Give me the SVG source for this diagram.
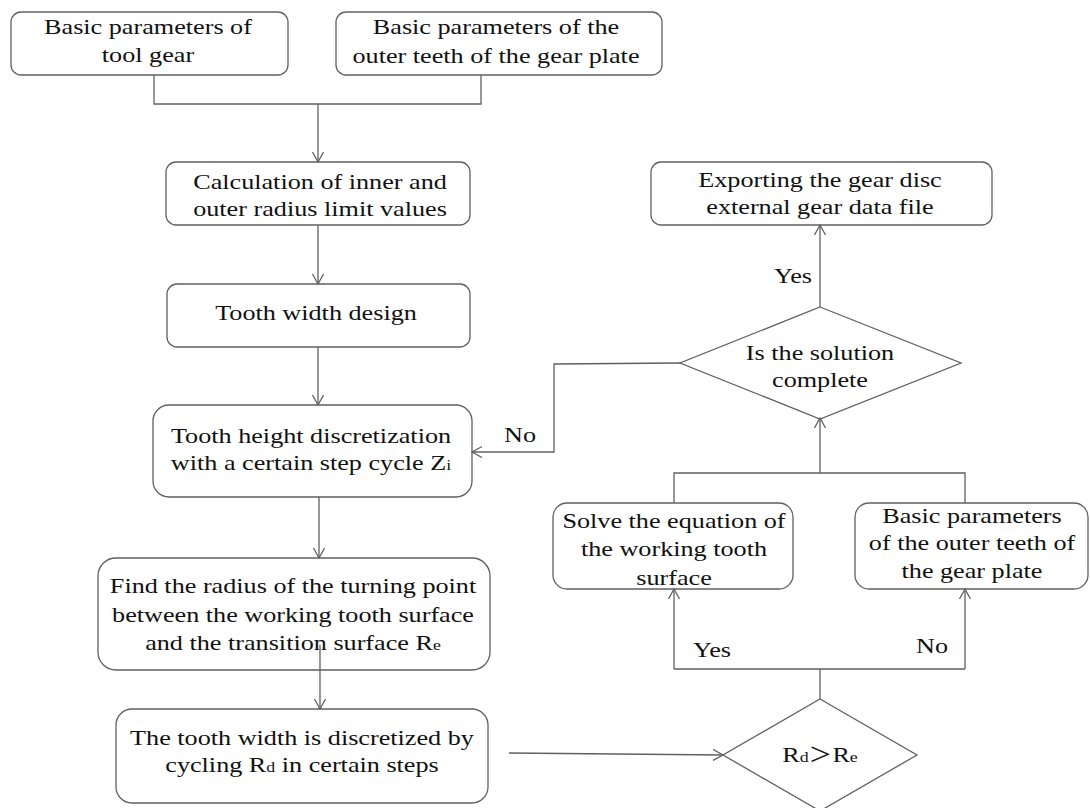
<svg xmlns="http://www.w3.org/2000/svg" width="1090" height="808" viewBox="0 0 1090 808">
<defs>
<style>
.box{fill:#fff;stroke:#606060;stroke-width:1.3}
.ln{fill:none;stroke:#606060;stroke-width:1.3}
.t{font-family:"Liberation Serif","Times New Roman",serif;font-size:22px;fill:#111;text-anchor:middle}
.s{font-size:15px}
.gt{font-family:"Noto Sans CJK SC",sans-serif;font-size:20px}
</style>
<marker id="ar" markerUnits="userSpaceOnUse" markerWidth="14" markerHeight="14" refX="11" refY="6" orient="auto">
<path d="M1,0.5 L11,6 L1,11.5" fill="none" stroke="#606060" stroke-width="1.3"/>
</marker>
</defs>
<rect width="1090" height="808" fill="#fff"/>

<g id="n1">
<rect class="box" x="11" y="12" width="277" height="63" rx="10"/>
<text class="t" transform="matrix(1.19 0 0 1 148 0)"><tspan x="0" y="34">Basic parameters of</tspan><tspan x="0" y="62">tool gear</tspan></text>
</g>
<g id="n2">
<rect class="box" x="336" y="12" width="326" height="63" rx="10"/>
<text class="t" transform="matrix(1.19 0 0 1 496 0)"><tspan x="0" y="34">Basic parameters of the</tspan><tspan x="0" y="63">outer teeth of the gear plate</tspan></text>
</g>
<g id="n3">
<rect class="box" x="166" y="162" width="304" height="63" rx="10"/>
<text class="t" transform="matrix(1.19 0 0 1 320 0)"><tspan x="0" y="189">Calculation of inner and</tspan><tspan x="0" y="216">outer radius limit values</tspan></text>
</g>
<g id="n4">
<rect class="box" x="167" y="284" width="303" height="63" rx="10"/>
<text class="t" transform="matrix(1.19 0 0 1 316 0)" x="0" y="320">Tooth width design</text>
</g>
<g id="n5">
<rect class="box" x="153" y="405" width="319" height="92" rx="16"/>
<text class="t" transform="matrix(1.19 0 0 1 311 0)"><tspan x="0" y="443">Tooth height discretization</tspan><tspan x="0" y="470">with a certain step cycle Z<tspan class="s">i</tspan></tspan></text>
</g>
<g id="n6">
<rect class="box" x="98" y="558" width="392" height="112" rx="18"/>
<text class="t" transform="matrix(1.19 0 0 1 293 0)"><tspan x="0" y="593">Find the radius of the turning point</tspan><tspan x="0" y="622">between the working tooth surface</tspan><tspan x="0" y="650">and the transition surface R<tspan class="s">e</tspan></tspan></text>
</g>
<g id="n7">
<rect class="box" x="116" y="709" width="372" height="94" rx="16"/>
<text class="t" transform="matrix(1.19 0 0 1 302 0)"><tspan x="0" y="745">The tooth width is discretized by</tspan><tspan x="0" y="772">cycling R<tspan class="s">d</tspan> in certain steps</tspan></text>
</g>
<g id="n8">
<polygon class="box" points="820,699 917,755 820,811 723,755"/>
<text class="t" transform="matrix(1.19 0 0 1 820 0)" x="0" y="762">R<tspan class="s">d</tspan><tspan class="gt">＞</tspan>R<tspan class="s">e</tspan></text>
</g>
<g id="n9">
<rect class="box" x="553" y="503" width="240" height="86" rx="14"/>
<text class="t" transform="matrix(1.19 0 0 1 674 0)"><tspan x="0" y="528">Solve the equation of</tspan><tspan x="0" y="556">the working tooth</tspan><tspan x="0" y="585">surface</tspan></text>
</g>
<g id="n10">
<rect class="box" x="855" y="503" width="233" height="86" rx="14"/>
<text class="t" transform="matrix(1.19 0 0 1 972 0)"><tspan x="0" y="523">Basic parameters</tspan><tspan x="0" y="550">of the outer teeth of</tspan><tspan x="0" y="578">the gear plate</tspan></text>
</g>
<g id="n11">
<polygon class="box" points="820,307 961,363 820,419 680,363"/>
<text class="t" transform="matrix(1.19 0 0 1 820 0)"><tspan x="0" y="360">Is the solution</tspan><tspan x="0" y="387">complete</tspan></text>
</g>
<g id="n12">
<rect class="box" x="651" y="162" width="341" height="63" rx="10"/>
<text class="t" transform="matrix(1.19 0 0 1 820 0)"><tspan x="0" y="187">Exporting the gear disc</tspan><tspan x="0" y="214">external gear data file</tspan></text>
</g>

<g id="connectors">
<path class="ln" d="M154,75 V104 H481 V75"/>
<path class="ln" d="M318,104 V162" marker-end="url(#ar)"/>
<path class="ln" d="M318,225 V284" marker-end="url(#ar)"/>
<path class="ln" d="M318,347 V405" marker-end="url(#ar)"/>
<path class="ln" d="M319,497 V558" marker-end="url(#ar)"/>
<path class="ln" d="M320,645 V709" marker-end="url(#ar)"/>
<path class="ln" d="M509,753 L723,755" marker-end="url(#ar)"/>
<path class="ln" d="M820,699 V669 M674,669 H965"/>
<path class="ln" d="M674,669 V589" marker-end="url(#ar)"/>
<path class="ln" d="M965,669 V589" marker-end="url(#ar)"/>
<path class="ln" d="M674,503 V473 H965 V503"/>
<path class="ln" d="M820,473 V418" marker-end="url(#ar)"/>
<path class="ln" d="M820,307 V225" marker-end="url(#ar)"/>
<path class="ln" d="M680,363 L554,364 V452 H472" marker-end="url(#ar)"/>
<text class="t" transform="matrix(1.19 0 0 1 793 0)" x="0" y="283">Yes</text>
<text class="t" transform="matrix(1.19 0 0 1 520 0)" x="0" y="442">No</text>
<text class="t" transform="matrix(1.19 0 0 1 712 0)" x="0" y="657">Yes</text>
<text class="t" transform="matrix(1.19 0 0 1 932 0)" x="0" y="653">No</text>
</g>
</svg>
